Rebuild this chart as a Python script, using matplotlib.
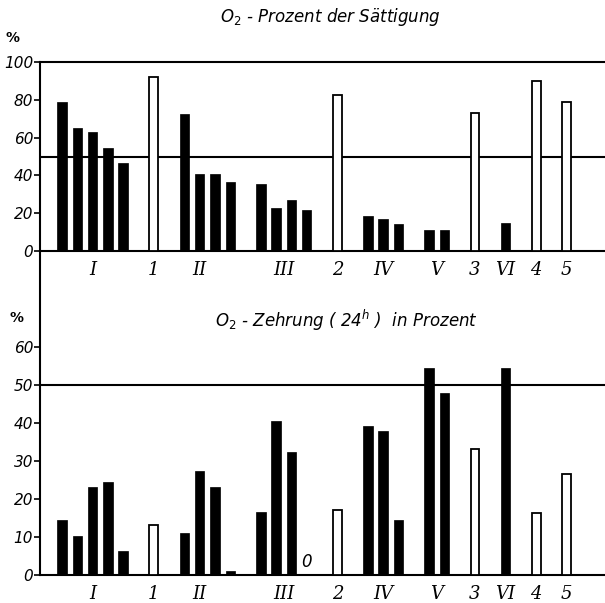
import matplotlib
matplotlib.use("Agg")
import matplotlib.pyplot as plt
from matplotlib.lines import Line2D

# block order along the x axis: Roman = stations (black), digits = reference (open)
blocks = ["I", "1", "II", "III", "2", "IV", "V", "3", "VI", "4", "5"]
open_blocks = {"1", "2", "3", "4", "5"}

# O2 saturation in percent
sat_vals = {
    "I": [79, 65, 63, 54.5, 46.5],
    "1": [92],
    "II": [72.5, 40.5, 40.5, 36.5],
    "III": [35.5, 23, 27, 21.5],
    "2": [82.5],
    "IV": [18.5, 17, 14.5],
    "V": [11, 11],
    "3": [73],
    "VI": [15],
    "4": [90],
    "5": [79],
}

# O2 consumption (24h) in percent
zehr_vals = {
    "I": [14.5, 10.3, 23.2, 24.5, 6.4],
    "1": [13.2],
    "II": [11.1, 27.5, 23.2, 1.1],
    "III": [16.5, 40.4, 32.3, 0],
    "2": [17.1],
    "IV": [39.2, 37.9, 14.5],
    "V": [54.4, 47.8],
    "3": [33.2],
    "VI": [54.4],
    "4": [16.4],
    "5": [26.5],
}

W, H = 605, 603
fig = plt.figure(figsize=(W / 100, H / 100), dpi=100)
plt.rcParams["font.family"] = "DejaVu Sans"

ax_top = fig.add_axes([40 / W, 1 - 251 / H, 1 - 40 / W, (251 - 62) / H])
ax_bot = fig.add_axes([40 / W, 1 - 575 / H, 1 - 40 / W, (575 - 347) / H])


def draw_panel(ax, values, ylim, yticks):
    pos = 0
    centers = []
    for b in blocks:
        vals = values[b]
        xs = [pos + i for i in range(len(vals))]
        if b in open_blocks:
            ax.bar(xs, vals, width=0.58, color="white", edgecolor="black", linewidth=1.3, zorder=3)
        else:
            ax.bar(xs, vals, width=0.62, color="black", edgecolor="black", linewidth=0.5, zorder=3)
        # the label of group II sits under its second bar
        centers.append(xs[1] if b == "II" else (xs[0] + xs[-1]) / 2)
        pos = xs[-1] + 2
    ax.set_xlim(-1.44, 35.5)
    ax.set_ylim(*ylim)
    ax.axhline(50, color="black", lw=1.5, zorder=2)
    ax.set_yticks(yticks)
    ax.set_yticklabels([str(t) for t in yticks], fontstyle="italic", fontsize=11)
    ax.tick_params(axis="y", length=4, width=1.2, pad=1)
    ax.set_xticks(centers)
    ax.set_xticklabels(blocks, fontsize=13, fontstyle="italic", family="DejaVu Serif")
    ax.tick_params(axis="x", length=0, pad=7)
    ax.spines["right"].set_visible(False)
    ax.spines["left"].set_visible(False)
    ax.spines["bottom"].set_linewidth(1.5)
    ax.spines["top"].set_linewidth(1.5)
    ax.set_facecolor("none")
    return centers


draw_panel(ax_top, sat_vals, (0, 100), [0, 20, 40, 60, 80, 100])
draw_panel(ax_bot, zehr_vals, (0, 60), [0, 10, 20, 30, 40, 50, 60])
ax_bot.spines["top"].set_visible(False)

# zero value marker for the last bar of group III
ax_bot.text(16, 1.0, "0", fontsize=12, fontstyle="italic", ha="center", va="bottom")

# one continuous y axis line through both panels
fig.add_artist(Line2D([40 / W, 40 / W], [1 - 575 / H, 1 - 62 / H], color="black", lw=1.5))

fig.text(330 / W, 1 - 17 / H, "O$_2$ - Prozent der Sättigung", fontsize=12,
         fontstyle="italic", ha="center", va="center")
fig.text(346 / W, 1 - 320 / H, "O$_2$ - Zehrung ( 24$^h$ )  in Prozent", fontsize=12,
         fontstyle="italic", ha="center", va="center")
fig.text(13 / W, 1 - 38 / H, "%", fontsize=10, fontweight="bold", ha="center", va="center")
fig.text(17 / W, 1 - 318 / H, "%", fontsize=10, fontweight="bold", ha="center", va="center")

fig.savefig("out.png", dpi=100)
